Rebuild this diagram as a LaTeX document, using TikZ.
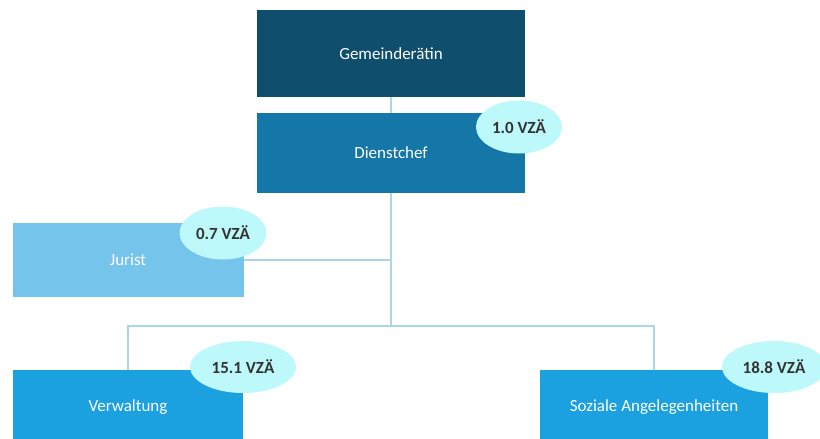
\documentclass[tikz,border=0pt]{standalone}
\usepackage{fontspec}
\setmainfont{Carlito}
\usepackage{tikz}
\usetikzlibrary{shapes.geometric}
\usetikzlibrary{positioning}

\definecolor{bleunuit}{HTML}{104E6D}
\definecolor{bleufonce}{HTML}{1576A8}
\definecolor{bleuclair}{HTML}{75C4EC}
\definecolor{bleumoyen}{HTML}{1BA0E0}
\definecolor{cyanpale}{HTML}{BDF9FB}
\definecolor{trait}{HTML}{A9D6EB}
\definecolor{texte}{HTML}{333333}

\begin{document}
\begin{tikzpicture}[x=1pt,y=-1pt,
  boite/.style={rectangle,inner sep=0pt,text=white,
    font=\fontsize{17}{20}\selectfont},
  bulle/.style={ellipse,fill=cyanpale,inner sep=0pt,text=texte,
    minimum height=53pt,font=\fontsize{17}{20}\selectfont\bfseries}]

\def \larg{268}
\def \lien{1.6pt}

\useasboundingbox (0,0) rectangle (820,439);
\clip (0,0) rectangle (820,439);

\node[boite,fill=bleunuit,minimum width=\larg,minimum height=87] (gem) at (391,53.5) {Gemeinderätin};
\node[boite,fill=bleufonce,minimum width=\larg,minimum height=80] (dienst) at (391,153) {Dienstchef};

\node[boite,fill=bleuclair,minimum width=231,minimum height=74] (jurist) at (128,260) {Jurist};

\node[boite,fill=bleumoyen,minimum width=230,minimum height=74] (verw) at (128,407) {Verwaltung};
\node[boite,fill=bleumoyen,minimum width=228,minimum height=74] (soz) at (654,407) {Soziale Angelegenheiten};

\coordinate (bus) at (391,326);

\draw[trait,line width=\lien] (gem) -- (dienst);
\draw[trait,line width=\lien] (dienst.south) |- (jurist.east);
\draw[trait,line width=\lien] (dienst) -- (bus);
\draw[trait,line width=\lien] (verw.north) |- (bus) -| (soz.north);

\node[bulle,minimum width=86] (vz1) at (519,127) {1.0 VZÄ};
\node[bulle,minimum width=87] (vz2) at (223,233) {0.7 VZÄ};
\node[bulle,minimum width=106,minimum height=52] (vz3) at (243,367) {15.1 VZÄ};
\node[bulle,minimum width=104,minimum height=52] (vz4) at (774,367) {18.8 VZÄ};

\end{tikzpicture}
\end{document}
